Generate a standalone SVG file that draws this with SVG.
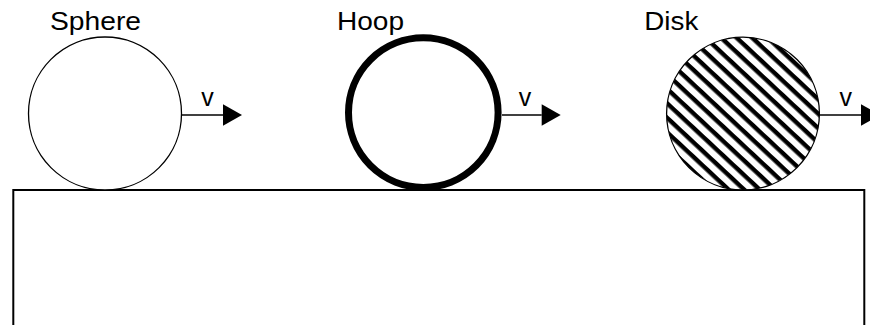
<svg xmlns="http://www.w3.org/2000/svg" width="870" height="325" viewBox="0 0 870 325">
  <style>
    .lbl { font-family: "Liberation Sans", Arial, sans-serif; font-size: 26px; fill: #000; }
    .v { font-family: "Liberation Sans", Arial, sans-serif; font-size: 25px; fill: #000; text-anchor: middle; }
    .conn { stroke: #000; stroke-width: 1.6; fill: none; marker-end: url(#arrow); }
  </style>
  <defs>
    <marker id="arrow" markerUnits="userSpaceOnUse" markerWidth="20" markerHeight="22" refX="0" refY="10.7" orient="auto" overflow="visible">
      <path d="M0,0 L19,10.7 L0,21.4 Z" fill="#000"/>
    </marker>
    <pattern id="stripes" patternUnits="userSpaceOnUse" width="20" height="10.6" patternTransform="rotate(43)">
      <rect x="0" y="0" width="20" height="4.4" fill="#000"/>
    </pattern>
  </defs>
  <rect width="870" height="325" fill="#fff"/>

  <g id="ground">
    <rect x="13.3" y="190" width="851" height="200" fill="#fff" stroke="#000" stroke-width="2"/>
  </g>

  <g id="sphere">
    <circle cx="105" cy="113.5" r="76.5" fill="#fff" stroke="#000" stroke-width="1.3"/>
    <text class="lbl" x="50" y="29.5" textLength="91" lengthAdjust="spacingAndGlyphs">Sphere</text>
  </g>

  <g id="hoop">
    <circle cx="423.3" cy="112.6" r="74.8" fill="#fff" stroke="#000" stroke-width="7"/>
    <text class="lbl" x="337" y="29.5" textLength="67" lengthAdjust="spacingAndGlyphs">Hoop</text>
  </g>

  <g id="disk">
    <circle cx="743" cy="113.6" r="76.4" fill="#fff"/>
    <circle cx="743" cy="113.6" r="76.4" fill="url(#stripes)" stroke="#000" stroke-width="1.3"/>
    <text class="lbl" x="644.3" y="29.5" textLength="54" lengthAdjust="spacingAndGlyphs">Disk</text>
  </g>

  <g id="connectors">
    <line class="conn" x1="181.5" y1="115" x2="223" y2="115"/>
    <line class="conn" x1="502" y1="115" x2="541.7" y2="115"/>
    <line class="conn" x1="819.5" y1="115" x2="861" y2="115"/>
    <text class="v" x="207.5" y="106">v</text>
    <text class="v" x="525" y="106">v</text>
    <text class="v" x="845.8" y="106">v</text>
  </g>
</svg>
